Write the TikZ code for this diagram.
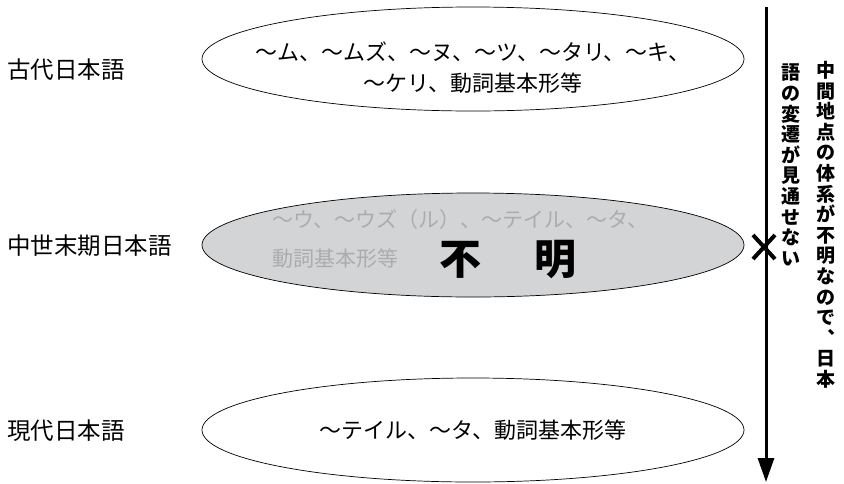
\documentclass[tikz,border=0pt]{standalone}
\usepackage{fontspec}
\setmainfont{Noto Sans CJK JP}
\usetikzlibrary{shapes.geometric,arrows.meta}
\definecolor{ellfill}{RGB}{211,212,214}
\definecolor{fadetext}{RGB}{172,172,172}
\begin{document}
\begin{tikzpicture}[x=1pt,y=-1pt,
  era/.style={ellipse,draw=black,line width=0.7pt,minimum width=542pt,minimum height=104pt,inner sep=0pt},
  label/.style={anchor=west,font=\fontsize{23.5}{24}\selectfont,inner sep=0pt},
  etext/.style={font=\fontsize{22}{30}\selectfont,inner sep=0pt,align=center},
  vcol/.style={font=\fontsize{19}{20.6}\selectfont\bfseries,inner sep=0pt,align=center,text width=19pt,anchor=north}]
\useasboundingbox (0,0) rectangle (844,483);
% ellipses
\node[era] (e1) at (473,59) {};
\node[era,fill=ellfill] (e2) at (473,245) {};
\node[era] (e3) at (473,430) {};
% left labels
\node[label] (l1) at (7,70) {古代日本語};
\node[label] (l2) at (7,246) {中世末期日本語};
\node[label] (l3) at (7,431) {現代日本語};
% ellipse texts
\node[etext] (t1a) at (473,52) {〜ム、〜ムズ、〜ヌ、〜ツ、〜タリ、〜キ、};
\node[etext] (t1b) at (473,83) {〜ケリ、動詞基本形等};
\node[etext,text=fadetext,anchor=west,font=\fontsize{21}{30}\selectfont] (t2a) at (272,220) {〜ウ、〜ウズ（ル）、〜テイル、〜タ、};
\node[etext,text=fadetext,anchor=west,font=\fontsize{21}{30}\selectfont] (t2b) at (272,259) {動詞基本形等};
\node[font=\fontsize{42}{44}\selectfont\bfseries,inner sep=0pt] (u1) at (460,260) {不};
\node[font=\fontsize{42}{44}\selectfont\bfseries,inner sep=0pt] (u2) at (555,260) {明};
\node[etext] (t3) at (473,430) {〜テイル、〜タ、動詞基本形等};
% time arrow
\coordinate (atop) at (766,7);
\coordinate (abot) at (766,482);
\draw[line width=3pt,-{Triangle[width=16pt,length=24pt]}] (atop) -- (abot);
% cross mark
\coordinate (xm) at (764,247);
\draw[line width=4pt] ([shift={(-11,-12)}]xm) -- ([shift={(11,12)}]xm);
\draw[line width=4pt] ([shift={(-11,12)}]xm) -- ([shift={(11,-12)}]xm);
% vertical explanatory text
\node[vcol] (v1) at (826,61) {中\\間\\地\\点\\の\\体\\系\\が\\不\\明\\な\\の\\で\\︑\\日\\本};
\node[vcol] (v2) at (791,64) {語\\の\\変\\遷\\が\\見\\通\\せ\\な\\い};
\end{tikzpicture}
\end{document}
